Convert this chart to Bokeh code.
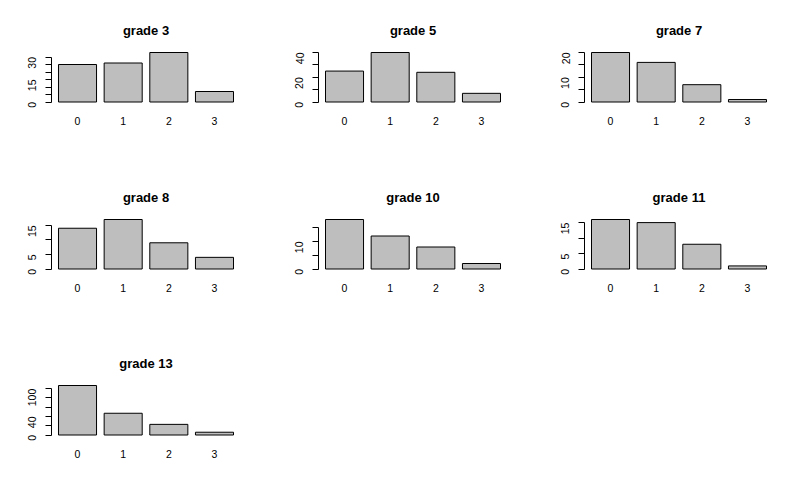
import math
from bokeh.plotting import figure
from bokeh.models import Range1d, FixedTicker
from bokeh.layouts import row, column
from bokeh.embed import file_html
from bokeh.resources import INLINE

# ---- data ----
categories = ["0", "1", "2", "3"]
grades = ["grade 3", "grade 5", "grade 7", "grade 8", "grade 10", "grade 11", "grade 13"]
grade3 = [25, 26, 33, 7]
grade5 = [25, 40, 24, 7]
grade7 = [20, 16, 7, 1]
grade8 = [14, 17, 9, 4]
grade10 = [18, 12, 8, 2]
grade11 = [16, 15, 8, 1]
grade13 = [107, 47, 23, 6]
series = [grade3, grade5, grade7, grade8, grade10, grade11, grade13]

y_ticks = [
    [0, 5, 10, 15, 20, 25, 30],
    [0, 10, 20, 30, 40],
    [0, 5, 10, 15, 20],
    [0, 5, 10, 15],
    [0, 5, 10, 15],
    [0, 5, 10, 15],
    [0, 20, 40, 60, 80, 100],
]
y_labels = [
    [0, 15, 30],
    [0, 20, 40],
    [0, 10, 20],
    [0, 5, 15],
    [0, 10],
    [0, 5, 15],
    [0, 40, 100],
]

# ---- layout geometry (pixels) ----
FRAME_W, FRAME_H = 189, 54
col_specs = [(267, 51, 27), (266, 51, 26), (251, 51, 11)]   # width, border left, border right
row_specs = [(167, 50, 63), (166, 50, 62), (151, 50, 47)]   # height, border top, border bottom

FONT = "Liberation Sans"
BAR_W = 1.0
SPACE = 0.2


def make_panel(idx):
    r, c = divmod(idx, 3)
    w, bl, br = col_specs[c]
    h, bt, bb = row_specs[r]
    counts = series[idx]
    m = max(counts)
    n = len(counts)
    lefts = [SPACE + i * (BAR_W + SPACE) for i in range(n)]
    centers = [round(l + BAR_W / 2, 3) for l in lefts]
    x0, x1 = lefts[0], lefts[-1] + BAR_W
    xpad = 0.04 * (x1 - x0)
    y0, y1 = -0.01 * m, m
    ypad = 0.04 * (y1 - y0)

    p = figure(width=w, height=h, output_backend="svg", toolbar_location=None,
               x_range=Range1d(x0 - xpad, x1 + xpad),
               y_range=Range1d(y0 - ypad, y1 + ypad),
               min_border_left=bl, min_border_right=br,
               min_border_top=bt, min_border_bottom=bb,
               title=grades[idx])
    p.vbar(x=centers, top=counts, bottom=0, width=BAR_W,
           fill_color="#BEBEBE", line_color="black", line_width=1)

    p.xgrid.visible = False
    p.ygrid.visible = False
    p.outline_line_color = None
    p.background_fill_color = "white"
    p.border_fill_color = "white"

    p.title.align = "center"
    p.title.text_font = FONT
    p.title.text_font_style = "bold"
    p.title.text_font_size = "13px"
    p.title.text_color = "black"
    p.title.standoff = 25

    xa = p.xaxis[0]
    xa.ticker = FixedTicker(ticks=centers)
    xa.major_label_overrides = {cv: lab for cv, lab in zip(centers, categories)}
    xa.axis_line_color = None
    xa.major_tick_line_color = None
    xa.minor_tick_line_color = None
    xa.major_tick_out = 0
    xa.major_label_standoff = 12
    xa.major_label_text_font = FONT
    xa.major_label_text_font_size = "10.5px"
    xa.major_label_text_color = "black"

    ya = p.yaxis[0]
    ticks = y_ticks[idx]
    ya.ticker = FixedTicker(ticks=ticks)
    ya.major_label_overrides = {t: ("" if t not in y_labels[idx] else str(t)) for t in ticks}
    ya.bounds = (ticks[0], ticks[-1])
    ya.axis_line_color = "black"
    ya.axis_line_width = 1
    ya.major_tick_line_color = "black"
    ya.major_tick_out = 6
    ya.major_tick_in = 0
    ya.minor_tick_line_color = None
    ya.major_label_orientation = math.pi / 2
    ya.major_label_standoff = 13
    ya.major_label_text_font = FONT
    ya.major_label_text_font_size = "10.5px"
    ya.major_label_text_color = "black"
    return p


panels = [make_panel(i) for i in range(len(series))]
layout = column(row(*panels[0:3]), row(*panels[3:6]), row(panels[6]))

open("out.html", "w").write(file_html(layout, INLINE))
